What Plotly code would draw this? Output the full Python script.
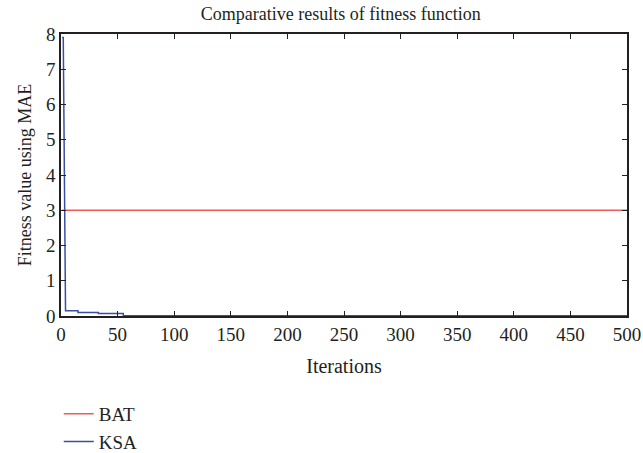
import plotly.graph_objects as go

# Data
bat_iter = [1, 500]
bat_fitness = [3.0, 3.0]

ksa_iter = [1, 2, 4, 15, 15, 33, 33, 55, 55, 500]
ksa_fitness = [7.9, 7.9, 0.15, 0.15, 0.1, 0.1, 0.07, 0.07, 0.01, 0.01]

x_ticks = [0, 50, 100, 150, 200, 250, 300, 350, 400, 450, 500]
y_ticks = [0, 1, 2, 3, 4, 5, 6, 7, 8]

font_family = "'Liberation Serif', 'Times New Roman', 'DejaVu Serif', serif"
ink = "#231f20"

fig = go.Figure()
fig.add_trace(go.Scatter(x=bat_iter, y=bat_fitness, mode="lines", name="BAT",
                         line=dict(color="#f05a5a", width=1.5)))
fig.add_trace(go.Scatter(x=ksa_iter, y=ksa_fitness, mode="lines", name="KSA",
                         line=dict(color="#3b4fa0", width=1.5)))

axis_common = dict(showline=True, linecolor=ink, linewidth=1.5, mirror="ticks",
                   ticks="inside", ticklen=5, tickcolor=ink, tickwidth=1,
                   showgrid=False, zeroline=False,
                   tickfont=dict(family=font_family, size=19, color=ink))

fig.update_layout(
    width=643, height=453,
    paper_bgcolor="white", plot_bgcolor="white",
    font=dict(family=font_family, color=ink),
    margin=dict(l=61, r=16, t=34, b=137, autoexpand=False),
    title=dict(text="Comparative results of fitness function", x=0.53, xanchor="center",
               y=0.983, yanchor="top",
               font=dict(family=font_family, size=18, color=ink)),
    xaxis=dict(range=[0, 500], tickvals=x_ticks,
               title=dict(text="Iterations", standoff=15,
                          font=dict(family=font_family, size=20, color=ink)),
               **axis_common),
    yaxis=dict(range=[0, 8], tickvals=y_ticks,
               title=dict(text="Fitness value using MAE", standoff=10,
                          font=dict(family=font_family, size=18, color=ink)),
               **axis_common),
    legend=dict(x=-0.004, y=-0.28, xanchor="left", yanchor="top",
                font=dict(family=font_family, size=19, color=ink),
                bgcolor="rgba(0,0,0,0)", tracegroupgap=0),
    showlegend=True,
)

fig.write_html("out.html")
